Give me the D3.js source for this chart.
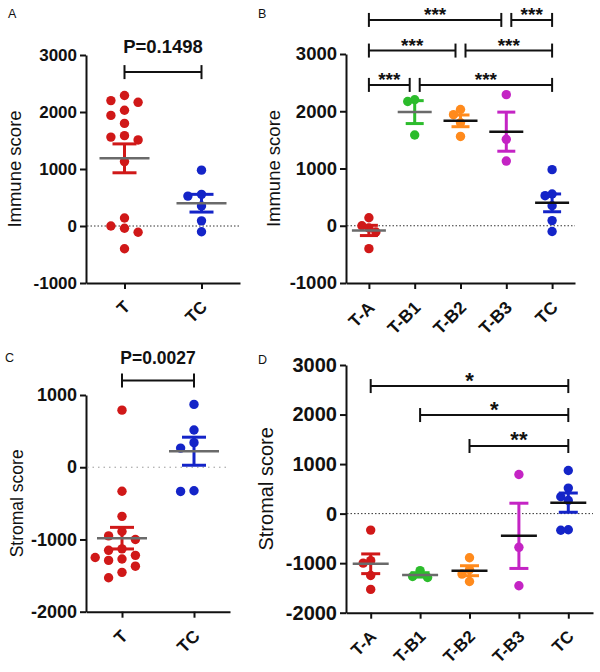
<!DOCTYPE html>
<html><head><meta charset="utf-8">
<script src="https://cdn.jsdelivr.net/npm/d3@7"></script>
<style>body{margin:0;background:#fff} text{font-family:"Liberation Sans",Arial,sans-serif}</style>
</head><body><svg id="c" width="600" height="672"></svg>
<script>
// ---------- data ----------
const catsTwo = ["T", "TC"];
const catsFive = ["T-A", "T-B1", "T-B2", "T-B3", "TC"];

const immuneTA  = [140, -40, 0, -110, -400];
const immuneTB1 = [2200, 2170, 1585];
const immuneTB2 = [2030, 1940, 1800, 1560];
const immuneTB3 = [2290, 1510, 1130];
const immuneTC  = [980, 525, 555, 350, 90, -100];

const stromalTA  = [-333, -950, -1000, -1250, -1530];
const stromalTB1 = [-1150, -1270, -1290];
const stromalTB2 = [-890, -1130, -1220, -1370];
const stromalTB3 = [790, -680, -1455];
const stromalTC  = [870, 515, 340, 265, -335, -325];

const immuneT  = [].concat(immuneTA, immuneTB1, immuneTB2, immuneTB3);
const stromalT = [].concat(stromalTA, stromalTB1, stromalTB2, stromalTB3);

const ticksImmune = [-1000, 0, 1000, 2000, 3000];
const ticksStromalC = [-2000, -1000, 0, 1000];
const ticksStromalD = [-2000, -1000, 0, 1000, 2000, 3000];

// brackets: [fromIndex, toIndex, level (score units), label]
const bracketsA = [[0, 1, 2700, "P=0.1498"]];
const bracketsB = [[0, 1, 2460, "***"], [1, 4, 2460, "***"], [0, 2, 3060, "***"], [2, 4, 3060, "***"], [0, 3, 3595, "***"], [3, 4, 3595, "***"]];
const bracketsC = [[0, 1, 1200, "P=0.0027"]];
const bracketsD = [[0, 4, 2575, "*"], [1, 4, 1990, "*"], [2, 4, 1365, "**"]];

// ---------- style ----------
const RED = "#d01818", BLUE = "#1424c8", GREEN = "#2cbc2c", ORANGE = "#ff8a1c", MAGENTA = "#c424c4";
const GRAY = "#6a6a6a", BLACK = "#111";

const panels = [
  {label: "A", cats: catsTwo, groups: [immuneT, immuneTC], colors: [RED, BLUE], meanColors: [GRAY, GRAY],
   x0: 86, x1: 240, yTop: 55, yBot: 283, domain: [-1000, 3000], ticks: ticksImmune, title: "Immune score",
   titleX: 14, lx: 8, ly: 18, f: 17, xf: 17, tf: 18.5, brackets: bracketsA, bf: 18.5, bOff: -19, meanW: 50, capW: 24, step: 13.6,
   zero: {c: "#333", d: "1.5,2"}},
  {label: "B", cats: catsFive, groups: [immuneTA, immuneTB1, immuneTB2, immuneTB3, immuneTC],
   colors: [RED, GREEN, ORANGE, MAGENTA, BLUE], meanColors: [GRAY, GRAY, BLACK, BLACK, BLACK],
   x0: 346, x1: 575, yTop: 54, yBot: 283, domain: [-1000, 3000], ticks: ticksImmune, title: "Immune score",
   titleX: 273, lx: 258, ly: 18, f: 18.5, xf: 17.5, tf: 18.5, brackets: bracketsB, bf: 19, bOff: 1, meanW: 34, capW: 18, step: 7,
   zero: {c: "#333", d: "1.5,2"}},
  {label: "C", cats: catsTwo, groups: [stromalT, stromalTC], colors: [RED, BLUE], meanColors: [GRAY, GRAY],
   x0: 86, x1: 230, yTop: 395, yBot: 611.7, domain: [-2000, 1000], ticks: ticksStromalC, title: "Stromal score",
   titleX: 17, lx: 5, ly: 362, f: 18, xf: 17.5, tf: 17.5, brackets: bracketsC, bf: 17.5, bOff: -17, meanW: 50, capW: 24, step: 13.4,
   zero: {c: "#999", d: "1.5,4"}},
  {label: "D", cats: catsFive, groups: [stromalTA, stromalTB1, stromalTB2, stromalTB3, stromalTC],
   colors: [RED, GREEN, ORANGE, MAGENTA, BLUE], meanColors: [GRAY, GRAY, BLACK, BLACK, BLACK],
   x0: 346, x1: 593, yTop: 365, yBot: 612.7, domain: [-2000, 3000], ticks: ticksStromalD, title: "Stromal score",
   titleX: 266, lx: 258, ly: 364, f: 20, xf: 17, tf: 20, brackets: bracketsD, bf: 22, bOff: 1.5, meanW: 36, capW: 19, step: 7.5,
   zero: {c: "#333", d: "1.5,2"}}
];

const R = 4.7;
const svg = d3.select("#c");
svg.append("rect").attr("width", 600).attr("height", 672).attr("fill", "#fff");

function swarm(values, y, step) {
  const pts = values.map(v => ({v, y: y(v)})).sort((a, b) => a.y - b.y);
  const placed = [];
  const order = [0, -1, 1, -2, 2, -3, 3];
  pts.forEach(p => {
    for (const k of order) {
      const dx = k * step;
      const ok = placed.every(q => !(Math.abs(q.dx - dx) < step * 0.5 && Math.abs(q.y - p.y) < 2 * R * 0.95));
      if (ok) { p.dx = dx; placed.push(p); break; }
    }
  });
  return pts;
}

const FONT = '"Liberation Sans",Arial,sans-serif';

panels.forEach(P => {
  const g = svg.append("g");
  const x = d3.scalePoint().domain(P.cats).range([P.x0, P.x1]).padding(0.5);
  const y = d3.scaleLinear().domain(P.domain).range([P.yBot, P.yTop]);

  // panel label
  g.append("text").attr("x", P.lx).attr("y", P.ly).attr("font-size", 12.5).attr("fill", "#111").text(P.label);

  // y axis
  const ya = g.append("g").attr("transform", `translate(${P.x0},0)`)
    .call(d3.axisLeft(y).tickValues(P.ticks).tickFormat(d => String(d)).tickSize(6).tickPadding(3).tickSizeOuter(0));
  ya.select(".domain").attr("stroke", "#111").attr("stroke-width", 2);
  ya.selectAll(".tick line").attr("stroke", "#111").attr("stroke-width", 2);
  ya.selectAll(".tick text").attr("font-size", P.f).attr("font-weight", "bold").attr("fill", "#111")
    .attr("font-family", FONT);

  // x axis
  const xa = g.append("g").attr("transform", `translate(0,${P.yBot})`)
    .call(d3.axisBottom(x).tickSize(6).tickSizeOuter(0));
  xa.select(".domain").attr("stroke", "#111").attr("stroke-width", 2);
  xa.selectAll(".tick line").attr("stroke", "#111").attr("stroke-width", 2);
  xa.selectAll(".tick text").attr("font-size", P.xf).attr("font-weight", "bold").attr("fill", "#111")
    .attr("font-family", FONT)
    .attr("x", 0).attr("y", 0).attr("dy", "0.35em").attr("text-anchor", "end")
    .attr("transform", `translate(2,${P.xf * 1.22}) rotate(-45)`);

  // y title
  g.append("text").attr("transform", `translate(${P.titleX + P.tf * 0.36},${(P.yTop + P.yBot) / 2}) rotate(-90)`)
    .attr("text-anchor", "middle").attr("font-size", P.tf).attr("fill", "#111").text(P.title);

  // zero line
  g.append("line").attr("x1", P.x0 + 1).attr("x2", P.x1).attr("y1", y(0)).attr("y2", y(0))
    .attr("stroke", P.zero.c).attr("stroke-width", 1).attr("stroke-dasharray", P.zero.d);

  // data
  P.cats.forEach((c, i) => {
    const vals = P.groups[i];
    const cx = x(c);
    const pts = swarm(vals, y, P.step);
    g.append("g").selectAll("circle").data(pts).join("circle")
      .attr("cx", d => cx + d.dx).attr("cy", d => d.y).attr("r", R).attr("fill", P.colors[i]);
    const m = d3.mean(vals);
    const sem = d3.deviation(vals) / Math.sqrt(vals.length);
    const eb = g.append("g").attr("stroke", P.colors[i]).attr("stroke-width", 3);
    eb.append("line").attr("x1", cx).attr("x2", cx).attr("y1", y(m + sem)).attr("y2", y(m - sem));
    [m + sem, m - sem].forEach(v => eb.append("line").attr("x1", cx - P.capW / 2).attr("x2", cx + P.capW / 2)
      .attr("y1", y(v)).attr("y2", y(v)));
    g.append("line").attr("x1", cx - P.meanW / 2).attr("x2", cx + P.meanW / 2).attr("y1", y(m)).attr("y2", y(m))
      .attr("stroke", P.meanColors[i]).attr("stroke-width", 2.5);
  });

  // brackets
  P.brackets.forEach(b => {
    const [i0, i1, lev, txt] = b;
    let xa0 = x(P.cats[i0]), xa1 = x(P.cats[i1]);
    const row = P.brackets.filter(o => o[2] === lev && o !== b);
    if (row.some(o => o[0] === i1)) xa1 -= 5;
    if (row.some(o => o[1] === i0)) xa0 += 5;
    const yy = y(lev);
    const bg = g.append("g").attr("stroke", "#111").attr("stroke-width", 2);
    bg.append("line").attr("x1", xa0).attr("x2", xa1).attr("y1", yy).attr("y2", yy);
    [xa0, xa1].forEach(xx => bg.append("line").attr("x1", xx).attr("x2", xx).attr("y1", yy - 7).attr("y2", yy + 7));
    g.append("text").attr("x", (xa0 + xa1) / 2).attr("y", yy + P.bOff).attr("text-anchor", "middle")
      .attr("font-size", P.bf).attr("font-weight", "bold").attr("fill", "#111").text(txt);
  });
});
</script></body></html>
